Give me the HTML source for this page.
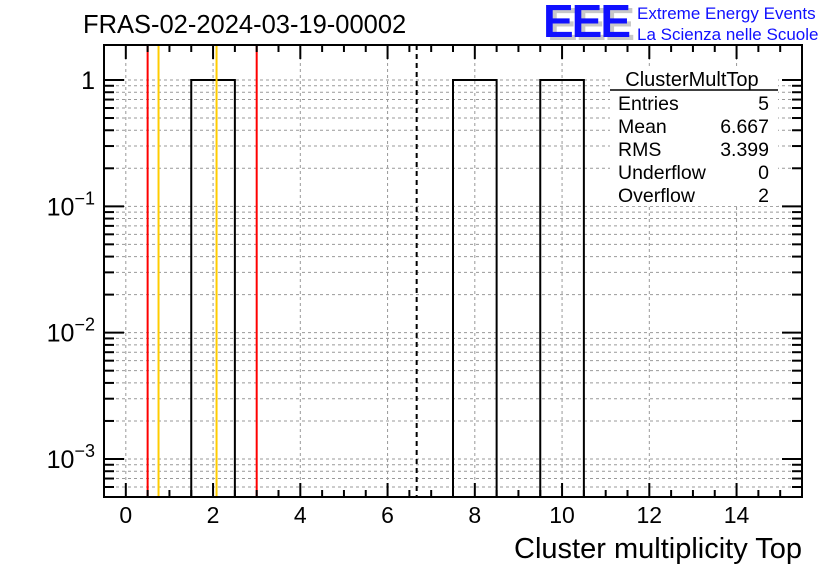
<!DOCTYPE html>
<html><head><meta charset="utf-8"><style>
body{margin:0;background:#fff;}
svg{display:block;font-family:"Liberation Sans",sans-serif;}
</style></head><body>
<svg id="c" width="836" height="572" viewBox="0 0 836 572" xmlns="http://www.w3.org/2000/svg">
<text x="83" y="33" font-size="25.5">FRAS-02-2024-03-19-00002</text>
<g>
<text x="547" y="40" font-size="46" font-weight="bold" fill="#c8c8c8" letter-spacing="-2">EEE</text>
<text x="543" y="37" font-size="46" font-weight="bold" fill="#1010ff" letter-spacing="-2">EEE</text>
<text x="637" y="19" font-size="17" fill="#1010ff">Extreme Energy Events</text>
<text x="637" y="40" font-size="17" fill="#1010ff">La Scienza nelle Scuole</text>
</g>
<g id="grid"></g><g id="marks"></g><g id="axes"></g>
<g>
<rect x="610" y="68" width="168" height="138" fill="#fff"/>
<text x="692" y="86" font-size="20" text-anchor="middle">ClusterMultTop</text>
<line x1="610" y1="90" x2="778" y2="90" stroke="#000" stroke-width="1.5"/>
<g font-size="19.5">
<text x="618" y="110">Entries</text><text x="769" y="110" text-anchor="end">5</text>
<text x="618" y="133">Mean</text><text x="769" y="133" text-anchor="end">6.667</text>
<text x="618" y="156">RMS</text><text x="769" y="156" text-anchor="end">3.399</text>
<text x="618" y="179">Underflow</text><text x="769" y="179" text-anchor="end">0</text>
<text x="618" y="202">Overflow</text><text x="769" y="202" text-anchor="end">2</text>
</g></g>
<text x="802" y="558" font-size="29" text-anchor="end">Cluster multiplicity Top</text>
</svg>
<script>
const binLow = [1.5, 7.5, 9.5];
const binHigh = [2.5, 8.5, 10.5];
const binValues = [1, 1, 1];
const redLines = [0.5, 3.0];
const yellowLines = [0.75, 2.08];
const meanValue = [6.667];
const xTicks = [0, 2, 4, 6, 8, 10, 12, 14];
const yDecades = [-3, -2, -1, 0];
const yTickLabels = ["10^-3", "10^-2", "10^-1", "1"];

const L=104, R=802, T=45, B=497;
const xMin=-0.5, xMax=15.5, yMinL=Math.log10(5e-4), yMaxL=0.277;
const X=v=>L+(v-xMin)/(xMax-xMin)*(R-L);
const Y=v=>B-(Math.log10(v)-yMinL)/(yMaxL-yMinL)*(B-T);
const NS="http://www.w3.org/2000/svg";
function mk(tag,attrs,parent){const e=document.createElementNS(NS,tag);for(const k in attrs)e.setAttribute(k,attrs[k]);document.getElementById(parent).appendChild(e);return e;}
xTicks.forEach(t=>{const e=mk('line',{x1:X(t),x2:X(t),y1:T,y2:B,stroke:'#999','stroke-dasharray':'3,3'},'grid');

});
for(let d=-4;d<=0;d++)for(let m=1;m<=9;m++){const v=m*Math.pow(10,d);const y=Y(v);if(y<T||y>B)continue;
const e=mk('line',{x1:L,x2:R,y1:y,y2:y,stroke:'#999','stroke-dasharray':'3,3'},'grid');

}
binLow.forEach((lo,i)=>{const hi=binHigh[i],v=binValues[i];
const p=mk('path',{d:`M${X(lo)},${B} V${Y(v)} H${X(hi)} V${B}`,fill:'none',stroke:'#000','stroke-width':2},'marks');

});
redLines.forEach(v=>{const e=mk('line',{x1:X(v),x2:X(v),y1:T,y2:B,stroke:'#ff0000','stroke-width':2},'marks');

});
yellowLines.forEach(v=>{const e=mk('line',{x1:X(v),x2:X(v),y1:T,y2:B,stroke:'#ffcc00','stroke-width':2},'marks');

});
meanValue.forEach(v=>{const e=mk('line',{x1:X(v),x2:X(v),y1:T,y2:B,stroke:'#000','stroke-width':2,'stroke-dasharray':'5,4'},'marks');

});
const f=mk('rect',{x:L,y:T,width:R-L,height:B-T,fill:'none',stroke:'#000','stroke-width':2},'axes');


for(let v=0;v<=15.5;v+=0.5){const major=(v%2===0),len=major?14:7;
mk('line',{x1:X(v),x2:X(v),y1:B,y2:B-len,stroke:'#000','stroke-width':2},'axes');
mk('line',{x1:X(v),x2:X(v),y1:T,y2:T+len,stroke:'#000','stroke-width':2},'axes');}
xTicks.forEach(t=>{const e=mk('text',{x:X(t),y:523,'font-size':23,'text-anchor':'middle'},'axes');e.textContent=t;

});
for(let d=-4;d<=0;d++)for(let m=1;m<=9;m++){const y=Y(m*Math.pow(10,d));if(y<T||y>B)continue;const len=m===1?20:10;
mk('line',{x1:L,x2:L+len,y1:y,y2:y,stroke:'#000','stroke-width':2},'axes');
mk('line',{x1:R,x2:R-len,y1:y,y2:y,stroke:'#000','stroke-width':2},'axes');}
yDecades.forEach((d,i)=>{const y=Y(Math.pow(10,d));const lab=yTickLabels[i];
const e=mk('text',{x:95,y:y+9,'font-size':25,'text-anchor':'end'},'axes');


if(lab==="1"){e.textContent="1";}else{const p=lab.split('^');
const t1=document.createElementNS(NS,'tspan');t1.textContent=p[0];e.appendChild(t1);
const t2=document.createElementNS(NS,'tspan');t2.setAttribute('dy','-11');t2.setAttribute('font-size','18');t2.textContent=p[1].replace('-','\u2212');e.appendChild(t2);}});
</script>
</body></html>
